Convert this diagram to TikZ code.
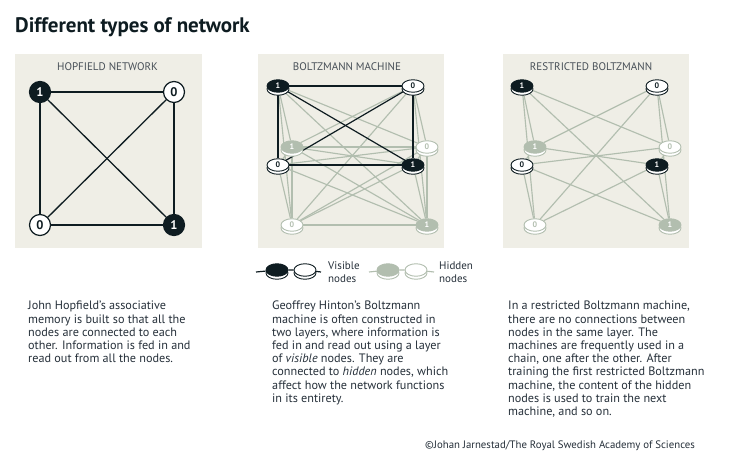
\documentclass[tikz,border=0pt]{standalone}
\usepackage{fontspec}
\setmainfont{PT Sans}
\usepackage{tikz}
\usetikzlibrary{shapes.geometric}

\pgfdeclarelayer{background}
\pgfsetlayers{background,main}

\definecolor{panelbg}{HTML}{EFEEE6}
\definecolor{ink}{HTML}{0E1C21}
\definecolor{sage}{HTML}{B2BEAF}
\definecolor{textgrey}{HTML}{26303A}

\tikzset{
    panel/.style={fill=panelbg, draw=none},
    paneltitle/.style={text=textgrey!85, font=\fontsize{11}{11}\selectfont},
    hopnode/.style={circle, draw=ink, line width=1.2pt, minimum size=21pt, inner sep=0pt, font=\bfseries\fontsize{12.5}{12.5}\selectfont},
    hopon/.style={hopnode, fill=ink, text=white},
    hopoff/.style={hopnode, fill=white, text=ink},
    coin/.style={ellipse, minimum width=22pt, minimum height=12.5pt, inner sep=0pt, line width=0.9pt,
        font=\bfseries\fontsize{8}{8}\selectfont,
        preaction={draw, fill=white, transform canvas={yshift=-3pt}}},
    von/.style={coin, draw=ink, fill=ink, text=white},
    voff/.style={coin, draw=ink, fill=white, text=ink},
    hon/.style={coin, draw=sage, fill=sage, text=white},
    hoff/.style={coin, draw=sage, fill=white, text=sage},
    hopedge/.style={draw=ink, line width=1.3pt},
    darkedge/.style={draw=ink, line width=1.2pt},
    greyedge/.style={draw=sage, line width=1.15pt},
    bodytext/.style={anchor=north west, align=left, inner sep=0pt, text=textgrey, font=\fontsize{12.2}{13.2}\selectfont},
    legendtext/.style={anchor=north west, align=left, inner sep=0pt, text=textgrey, font=\fontsize{11}{13}\selectfont}
}

\begin{document}
\begin{tikzpicture}[x=1pt, y=-1pt]
    \useasboundingbox (0,0) rectangle (741,470);

    \node[anchor=base west, inner sep=0pt, text=ink, font=\bfseries\fontsize{21}{21}\selectfont] (title) at (15,33) {Different types of network};

    % panels
    \begin{pgfonlayer}{background}
        \fill[white] (0,0) rectangle (741,470);
        \fill[panel] (15,54) rectangle (202,248);
        \fill[panel] (258,54) rectangle (444,248);
        \fill[panel] (503,54) rectangle (689,248);
    \end{pgfonlayer}
    \node[paneltitle] (hoptitle) at (107.5,67) {HOPFIELD NETWORK};
    \node[paneltitle] (boltztitle) at (347,67) {BOLTZMANN MACHINE};
    \node[paneltitle] (rbmtitle) at (591,67) {RESTRICTED BOLTZMANN};

    % Hopfield network
    \node[hopon] (h1) at (40,92) {1};
    \node[hopoff] (h2) at (174,92) {0};
    \node[hopoff] (h3) at (40,225) {0};
    \node[hopon] (h4) at (174,225) {1};
    \begin{pgfonlayer}{background}
        \foreach \a/\b in {h1/h2, h1/h3, h1/h4, h2/h3, h2/h4, h3/h4}
            \draw[hopedge] (\a) -- (\b);
    \end{pgfonlayer}

    % Boltzmann machine
    \node[hon] (bh1) at (292,147) {1};
    \node[hoff] (bh2) at (427,147) {0};
    \node[hoff] (bh3) at (292,225) {0};
    \node[hon] (bh4) at (427,225) {1};
    \node[von] (bv1) at (278,86) {1};
    \node[voff] (bv2) at (413,86) {0};
    \node[voff] (bv3) at (278,165) {0};
    \node[von] (bv4) at (413,165) {1};
    \begin{pgfonlayer}{background}
        \foreach \a/\b in {bh1/bh2, bh1/bh3, bh1/bh4, bh2/bh3, bh2/bh4, bh3/bh4}
            \draw[greyedge] (\a) -- (\b);
        \foreach \a in {bv1, bv2, bv3, bv4}
            \foreach \b in {bh1, bh2, bh3, bh4}
                \draw[greyedge] (\a) -- (\b);
        \foreach \a/\b in {bv1/bv2, bv1/bv3, bv1/bv4, bv2/bv3, bv2/bv4, bv3/bv4}
            \draw[darkedge] (\a) -- (\b);
    \end{pgfonlayer}

    % restricted Boltzmann machine
    \node[hon] (rh1) at (535,147) {1};
    \node[hoff] (rh2) at (670,147) {0};
    \node[hoff] (rh3) at (535,225) {0};
    \node[hon] (rh4) at (670,225) {1};
    \node[von] (rv1) at (522,86) {1};
    \node[voff] (rv2) at (657,86) {0};
    \node[voff] (rv3) at (522,165) {0};
    \node[von] (rv4) at (657,165) {1};
    \begin{pgfonlayer}{background}
        \foreach \a in {rv1, rv2, rv3, rv4}
            \foreach \b in {rh1, rh2, rh3, rh4}
                \draw[greyedge] (\a) -- (\b);
    \end{pgfonlayer}

    % legend
    \coordinate (lva) at (256,272);
    \coordinate (lvb) at (321,272);
    \node[von] (lv1) at (277,270) {};
    \node[voff] (lv2) at (305,270) {};
    \coordinate (lha) at (369,272);
    \coordinate (lhb) at (434,272);
    \node[hon] (lh1) at (388,270) {};
    \node[hoff] (lh2) at (416,270) {};
    \begin{pgfonlayer}{background}
        \draw[darkedge] (lva) -- (lv1) -- (lv2) -- (lvb);
        \draw[greyedge] (lha) -- (lh1) -- (lh2) -- (lhb);
    \end{pgfonlayer}
    \node[legendtext] (lvtext) at (328,262) {Visible\\nodes};
    \node[legendtext] (lhtext) at (439,262) {Hidden\\nodes};

    % texts
    \node[bodytext] (hoptext) at (28,301) {John Hopfield’s associative\\memory is built so that all the\\nodes are connected to each\\other. Information is fed in and\\read out from all the nodes.};
    \node[bodytext] (boltztext) at (272,301) {Geoffrey Hinton’s Boltzmann\\machine is often constructed in\\two layers, where information is\\fed in and read out using a layer\\of \textit{visible} nodes. They are\\connected to \textit{hidden} nodes, which\\affect how the network functions\\in its entirety.};
    \node[bodytext] (rbmtext) at (508,301) {In a restricted Boltzmann machine,\\there are no connections between\\nodes in the same layer. The\\machines are frequently used in a\\chain, one after the other. After\\training the first restricted Boltzmann\\machine, the content of the hidden\\nodes is used to train the next\\machine, and so on.};

    \node[anchor=west, inner sep=0pt, text=textgrey, font=\fontsize{10.8}{11}\selectfont] (credit) at (425,446) {©Johan Jarnestad/The Royal Swedish Academy of Sciences};
\end{tikzpicture}
\end{document}
